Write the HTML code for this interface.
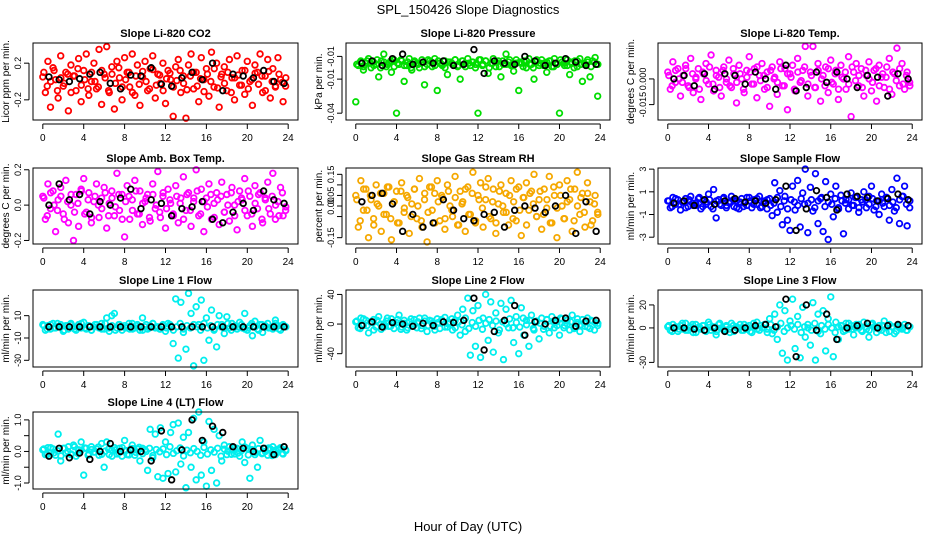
<!DOCTYPE html>
<html><head><meta charset="utf-8"><style>
body{margin:0;background:#fff;}
svg{display:block;font-family:"Liberation Sans",sans-serif;}
</style></head><body>
<svg id="c" width="936" height="540" viewBox="0 0 936 540">
<text x="468" y="14" text-anchor="middle" font-size="13">SPL_150426  Slope Diagnostics</text>
<text x="468" y="531" text-anchor="middle" font-size="13">Hour of Day (UTC)</text>
</svg>
<script>
const hourTicks=[0,4,8,12,16,20,24];
const co2Vals=[0.05,-0.12,0.22,-0.28,0.15,0.02,-0.18,0.28,-0.05,0.1,-0.32,0.18,0.06,-0.1,0.25,-0.22,0.12,0.3,-0.15,0.0,0.2,-0.08,0.35,-0.25,0.08,0.38,-0.12,0.16,-0.3,0.22,0.04,-0.2,0.26,0.1,-0.06,0.3,-0.15,0.18,-0.26,0.05,0.22,-0.1,0.14,0.28,-0.18,0.08,-0.02,0.2,-0.24,0.12,0.02,-0.38,0.16,0.24,-0.12,0.06,-0.4,0.18,0.3,-0.08,0.1,-0.22,0.26,0.02,0.14,-0.16,0.32,-0.06,0.2,-0.28,0.08,0.16,-0.1,0.24,0.04,-0.2,0.28,-0.04,0.12,-0.14,0.22,0.0,-0.26,0.18,0.1,0.3,-0.12,0.06,0.24,-0.18,0.14,-0.06,0.26,0.02,-0.22,-0.05];
const co2Core=[0.1,-0.05,0.0,0.12,-0.1,0.04,-0.02,0.08,-0.12,0.06,0.14,-0.04,0.02,-0.08,0.1,0.0,-0.06,0.12,0.04,-0.1,0.08,-0.02,0.15,-0.06,0.02,0.1,-0.12,0.06,-0.03,0.11,0.0,-0.08,0.13,-0.04,0.07,-0.1,0.03,0.09,-0.06,0.01,0.12,-0.02,-0.09,0.06,0.1,-0.05,0.03,-0.11,0.08,0.0,0.14,-0.07,0.05,-0.02,0.1,-0.12,0.04,0.07,-0.04,0.12,-0.08,0.02,0.09,-0.03,0.06,-0.1,0.11,0.0,-0.05,0.08,-0.01,0.04];
const co2Black=[0.05,0.02,0.0,0.03,0.08,0.1,-0.02,-0.08,0.07,0.06,0.15,-0.03,-0.05,0.04,0.1,0.02,0.2,-0.1,0.08,0.06,0.04,0.12,0.0,-0.02];
const presVals=[-0.03,0.002,0.006,-0.002,0.004,0.008,0.0,0.005,0.003,-0.008,0.006,0.012,0.001,0.004,-0.004,0.007,-0.04,0.003,0.006,-0.012,0.002,0.008,-0.002,0.005,0.004,0.0,0.007,-0.015,0.003,0.006,0.001,0.008,-0.02,0.004,0.002,0.006,-0.006,0.005,0.003,0.007,0.001,-0.01,0.006,0.004,0.008,0.002,0.005,0.0,-0.04,0.007,0.003,0.006,-0.005,0.004,0.008,0.001,0.006,-0.008,0.003,0.012,0.005,0.002,-0.003,0.007,-0.02,0.004,0.006,0.0,0.008,0.003,-0.01,0.005,0.002,0.007,0.004,-0.004,0.006,0.001,0.008,0.003,-0.04,0.005,0.002,0.007,-0.006,0.004,0.006,0.001,0.008,-0.012,0.003,0.005,-0.008,0.006,0.009,-0.025];
const presCore=[0.003,0.005,0.001,0.006,0.004,0.002,0.007,0.0,0.005,0.003,0.006,0.001,0.004,0.007,0.002,0.005,0.0,0.006,0.003,0.004,0.001,0.007,0.005,0.002,0.006,0.003,0.0,0.005,0.004,0.007,0.002,0.006,0.001,0.004,0.005,0.003,0.007,0.002,0.006,0.0,0.004,0.005,0.001,0.006,0.003,0.007,0.002,0.004,0.005,0.001,0.006,0.003,0.0,0.007,0.004,0.002,0.005,0.006,0.001,0.003,0.007,0.004,0.002,0.005,0.0,0.006,0.003,0.004,0.007,0.001,0.005,0.003];
const presBlack=[0.004,0.006,0.002,0.008,0.012,0.003,0.005,0.004,0.006,0.002,0.003,0.016,-0.005,0.006,0.004,0.003,0.01,0.006,0.002,0.004,0.008,0.005,0.002,0.003];
const tempVals=[0.004,-0.006,0.01,-0.002,0.006,-0.01,0.002,0.008,-0.004,0.012,-0.008,0.0,0.006,-0.012,0.003,0.009,-0.003,0.014,-0.007,0.005,0.001,-0.01,0.007,-0.002,0.011,-0.005,0.003,-0.014,0.008,0.0,-0.008,0.005,0.013,-0.003,0.006,-0.011,0.002,0.009,-0.006,0.004,-0.016,0.007,0.001,-0.009,0.01,-0.004,0.006,-0.018,0.003,0.008,-0.007,0.012,-0.002,0.005,0.019,-0.01,0.004,0.019,-0.005,0.009,-0.013,0.002,0.007,-0.008,0.011,-0.003,0.005,-0.012,0.008,0.0,-0.006,0.013,-0.022,0.004,0.009,-0.004,0.006,-0.01,0.002,0.01,-0.007,0.005,-0.013,0.008,0.001,-0.005,0.007,0.012,-0.009,0.003,0.018,-0.004,0.009,-0.006,0.004,-0.002];
const tempCore=[0.002,-0.004,0.005,0.0,-0.002,0.006,-0.005,0.003,0.001,-0.006,0.004,-0.001,0.007,-0.003,0.002,-0.005,0.005,0.0,-0.004,0.006,-0.002,0.003,-0.006,0.001,0.004,-0.003,0.007,-0.001,0.002,-0.005,0.005,0.0,-0.002,0.006,-0.004,0.003,0.001,-0.006,0.004,-0.001,0.007,-0.003,0.002,-0.005,0.005,0.0,-0.004,0.006,-0.002,0.003,-0.006,0.001,0.004,-0.003,0.007,-0.001,0.002,-0.005,0.005,0.0,-0.002,0.006,-0.004,0.003,0.001,-0.006,0.004,-0.001,0.006,-0.003,0.002,-0.004];
const tempBlack=[0.0,0.002,-0.004,0.003,-0.006,0.003,0.002,-0.003,0.004,0.0,-0.006,0.008,-0.007,-0.005,0.004,-0.002,0.004,0.0,-0.005,0.002,0.001,-0.01,0.003,0.0];
const ambVals=[0.05,-0.08,0.12,-0.02,0.08,-0.15,0.03,0.1,-0.05,0.14,-0.1,0.0,-0.2,0.06,-0.12,0.09,0.15,-0.04,0.07,-0.1,0.02,0.12,-0.07,0.04,0.1,-0.13,0.01,0.08,-0.06,0.18,-0.03,0.06,-0.18,0.11,-0.08,0.03,0.14,-0.05,0.08,-0.11,0.02,0.06,-0.09,0.12,-0.02,0.19,-0.07,0.05,-0.13,0.09,0.01,-0.05,0.11,-0.1,0.04,0.16,-0.03,0.07,-0.12,0.02,0.2,-0.06,0.09,-0.15,0.04,0.12,-0.08,0.01,0.07,-0.11,0.13,-0.04,0.06,-0.09,0.1,0.0,-0.14,0.08,0.03,0.15,-0.06,0.05,-0.12,0.11,-0.02,0.07,-0.1,0.04,0.13,-0.05,0.18,-0.08,0.02,0.1,-0.06,-0.03];
const ambCore=[0.04,-0.06,0.07,0.0,-0.03,0.05,-0.08,0.02,0.06,-0.04,0.01,0.08,-0.05,0.03,-0.07,0.05,0.0,-0.02,0.07,-0.06,0.04,-0.01,0.06,-0.08,0.02,0.05,-0.03,0.08,-0.05,0.01,0.04,-0.07,0.06,0.0,-0.04,0.07,-0.02,0.03,-0.06,0.05,0.01,-0.08,0.06,-0.03,0.04,0.08,-0.05,0.02,-0.01,0.06,-0.07,0.03,0.05,-0.04,0.0,0.07,-0.06,0.02,0.04,-0.03,0.08,-0.05,0.01,0.06,-0.08,0.03,-0.02,0.05,0.0,-0.06,0.07,-0.01];
const ambBlack=[0.0,0.12,0.03,0.06,-0.05,0.02,0.0,0.04,0.09,-0.02,0.03,0.01,-0.06,-0.02,-0.01,0.02,-0.08,-0.1,-0.04,0.01,-0.03,0.08,0.03,0.01];
const rhVals=[0.05,-0.1,0.12,-0.02,0.08,-0.15,0.03,-0.06,0.1,0.0,-0.12,0.06,-0.04,0.09,-0.16,0.02,0.07,-0.08,0.11,-0.03,0.05,-0.13,0.01,0.08,-0.06,0.13,-0.1,0.03,-0.17,0.09,-0.02,0.06,0.12,-0.07,0.04,-0.11,0.1,0.0,-0.05,0.14,-0.09,0.07,0.02,-0.12,0.09,-0.04,0.16,-0.08,0.05,0.11,-0.1,0.03,0.13,-0.06,0.08,-0.13,0.01,0.1,-0.03,0.06,-0.09,0.12,0.02,-0.07,0.09,-0.14,0.04,0.11,-0.02,0.07,0.15,-0.05,0.03,-0.11,0.08,-0.01,0.14,-0.08,0.05,-0.15,0.1,0.0,-0.06,0.12,0.03,-0.12,0.08,0.16,-0.04,0.06,-0.1,0.11,0.02,-0.07,0.05,-0.03];
const rhCore=[0.03,-0.07,0.08,-0.02,0.05,-0.09,0.01,0.06,-0.04,0.09,-0.06,0.02,-0.08,0.07,-0.01,0.04,-0.05,0.08,0.0,-0.07,0.06,-0.03,0.09,-0.08,0.02,0.05,-0.06,0.07,-0.02,0.04,-0.09,0.01,0.08,-0.04,0.06,-0.07,0.03,-0.01,0.09,-0.05,0.02,-0.08,0.07,0.0,-0.03,0.05,-0.06,0.08,-0.02,0.04,-0.09,0.06,0.01,-0.05,0.07,-0.04,0.03,-0.08,0.09,-0.01,0.05,-0.06,0.02,0.08,-0.07,0.0,0.04,-0.03,0.06,-0.09,0.01,-0.04];
const rhBlack=[0.02,0.05,0.06,0.01,-0.12,-0.04,-0.1,-0.08,0.03,-0.02,-0.06,-0.07,-0.04,-0.03,-0.1,-0.02,0.0,-0.01,-0.03,0.0,0.05,-0.13,0.02,-0.12];
const sampVals=[0.2,-0.4,0.5,-0.1,0.3,-0.6,0.1,0.4,-0.3,0.6,-0.2,0.0,0.4,-0.5,0.2,-0.1,0.8,-0.3,1.2,-1.3,0.3,-0.2,0.5,-0.4,0.1,0.6,-0.3,0.2,-0.5,0.4,0.0,-0.2,0.5,-0.4,0.3,-0.1,0.6,-0.3,0.2,-0.5,0.4,-1.1,1.8,-0.8,1.1,-1.9,0.6,-1.5,-2.4,1.5,-0.6,2.0,-2.1,0.9,3.0,-2.6,1.4,-0.7,2.6,-1.8,0.4,-2.5,1.9,-3.2,0.8,-1.2,1.5,-0.4,0.7,-2.7,0.3,-0.5,0.9,-0.2,0.5,-0.8,0.3,1.0,-0.4,0.6,1.5,-0.6,0.2,-1.0,0.8,-0.3,0.5,-1.5,1.2,-0.7,2.2,-1.8,0.6,1.5,-2.0,-0.4];
const sampCore=[0.2,-0.3,0.4,-0.1,0.1,-0.4,0.3,0.0,-0.2,0.5,-0.3,0.1,0.3,-0.5,0.2,-0.1,0.4,-0.2,0.0,0.3,-0.4,0.1,-0.3,0.5,0.2,-0.1,0.4,-0.4,0.1,0.3,-0.2,0.0,0.5,-0.3,0.2,-0.5,0.3,0.1,-0.2,0.4,-0.1,0.0,0.3,-0.4,0.2,0.5,-0.3,0.1,-0.1,0.4,-0.5,0.2,0.0,0.3,-0.2,0.5,-0.4,0.1,0.3,-0.1,0.4,-0.3,0.2,0.0,0.5,-0.2,0.1,-0.4,0.3,0.6,-0.1,0.2];
const sampBlack=[0.0,0.2,-0.2,0.3,-0.1,0.2,0.4,0.1,0.2,0.0,0.3,1.5,-2.4,-0.5,1.1,0.5,-0.6,0.8,0.6,0.5,0.2,0.4,0.8,0.3];
const l1Vals=[2,-3,1,-2,3,-1,0,2,-4,1,-2,3,0,-3,2,-1,4,-2,1,-3,0,2,-1,3,-2,8,-4,10,12,-1,2,-3,1,0,-2,3,-1,2,-3,8,0,-2,1,3,-1,0,-2,2,-4,3,1,-15,25,-28,22,-5,-20,30,12,-35,18,2,24,-30,8,-12,15,-3,-18,10,2,-6,9,-1,3,0,-2,4,-1,12,-3,1,-8,5,-2,2,-5,0,3,-1,-2,6,1,-3,2,0];
const l1Core=[1,-2,2,-1,3,0,-3,1,2,-2,0,3,-1,1,-3,2,0,-2,3,-1,1,-3,2,0,-1,3,-2,1,0,-3,2,-1,3,0,-2,1,-1,2,-3,0,3,-2,1,-1,2,0,-3,3,-1,1,-2,2,0,-1,3,-3,1,0,2,-2,-1,3,0,-3,2,1,-1,0,3,-2,1,0];
const l1Black=[0,0,0,0,0,0,0,0,0,0,0,0,0,0,0,0,0,0,0,0,0,0,0,0];
const l2Vals=[3,-5,8,-2,5,-12,2,6,-4,10,-7,0,4,-3,7,-6,2,12,-4,5,-8,3,0,6,-5,8,-2,4,-10,5,1,-3,7,-6,3,9,-4,2,-8,5,12,-15,20,-10,35,-42,18,-30,25,-45,8,40,-22,30,-38,15,-12,28,-48,20,-5,32,-25,10,-40,22,-15,5,-30,12,-8,4,-20,8,-3,6,-12,10,-5,3,-15,7,-2,5,-8,12,-4,2,-10,6,-3,8,-6,4,2,-2];
const l2Core=[4,-6,7,-2,3,-8,5,0,-4,8,-3,2,6,-7,1,-5,7,-1,3,-6,8,-2,4,-8,2,6,-4,0,7,-5,3,-1,8,-6,2,-3,5,-7,1,6,-2,4,-8,3,0,7,-5,2,-4,8,-1,5,-6,3,1,-7,6,-3,4,-2,8,-5,0,3,-6,7,-1,2,-4,5,-8,1];
const l2Black=[-2,3,-4,2,0,-3,1,-2,3,2,5,35,-35,-10,5,25,-15,3,0,5,8,-3,4,5];
const l3Vals=[1,-2,3,0,-3,2,-1,4,-2,1,-4,3,0,-1,2,-3,5,-2,1,-6,3,0,-2,2,-1,4,-3,1,0,-2,3,-1,2,-4,1,5,-2,0,3,-1,8,-5,12,-10,20,-22,15,-28,6,25,-18,10,-26,18,-8,3,-15,22,-28,12,-5,15,-20,8,27,-25,5,-10,2,-3,4,-1,2,-6,3,0,-2,5,-1,-8,3,1,-4,2,-2,6,0,-3,1,-5,2,0,-1,3,-2,1];
const l3Core=[2,-3,1,-1,4,-2,0,3,-4,1,2,-2,3,0,-3,4,-1,1,-4,2,0,3,-2,1,-3,4,-1,2,0,-4,3,-2,1,4,-3,0,2,-1,3,-4,1,0,-2,4,-3,2,-1,3,0,-4,1,2,-2,4,-1,0,3,-3,1,-2,4,0,-1,2,-4,3,1,-3,2,0,-2,1];
const l3Black=[0,0,-1,-2,0,-3,-2,0,2,3,1,25,-25,20,-2,12,-10,0,2,4,0,2,3,2];
const l4Vals=[0.05,-0.1,0.12,-0.05,0.08,-0.12,0.55,-0.3,0.1,-0.05,0.15,-0.1,0.2,-0.15,0.05,0.3,-0.75,0.1,-0.08,0.15,-0.02,0.08,-0.12,0.25,-0.5,0.3,-0.1,0.05,0.12,-0.08,0.1,-0.15,0.35,-0.1,0.05,0.2,-0.12,0.08,-0.3,0.1,0.05,-0.6,0.7,-0.2,0.55,-0.8,0.75,-0.85,0.3,-0.7,0.6,0.85,-0.65,0.9,-0.4,0.45,-1.15,0.6,-0.5,1.05,-0.9,1.25,-0.75,0.3,-1.1,0.95,-0.6,0.7,-1.0,0.5,-0.3,0.2,-0.1,0.15,0.05,-0.08,0.1,-0.15,0.3,-0.35,0.1,-0.85,0.2,-0.1,-0.5,0.35,-0.05,0.1,-0.12,0.08,0.15,-0.1,0.05,0.12,-0.08,0.05];
const l4Core=[0.08,-0.1,0.12,-0.04,0.02,-0.14,0.1,0.0,-0.08,0.15,-0.06,0.04,0.11,-0.12,0.06,-0.02,0.14,-0.09,0.01,0.07,-0.15,0.05,-0.05,0.12,0.03,-0.11,0.09,-0.03,0.13,-0.07,0.0,0.1,-0.13,0.06,-0.01,0.08,-0.1,0.15,-0.06,0.02,0.11,-0.14,0.04,-0.04,0.09,0.0,-0.12,0.13,-0.08,0.05,-0.02,0.1,-0.15,0.07,0.01,-0.09,0.12,-0.05,0.03,0.14,-0.11,0.06,-0.03,0.09,-0.07,0.0,0.11,-0.13,0.04,0.08,-0.06,0.02];
const l4Black=[-0.15,0.1,-0.2,-0.05,-0.25,0.0,0.25,0.0,0.05,0.0,-0.3,0.65,-0.9,0.05,1.0,0.35,0.8,0.6,0.15,0.1,0.0,0.1,-0.1,0.15];

const colTicksCO2=[-0.2,0.2], lblCO2=["-0.2","0.2"];
const colTicksPres=[0.01,-0.01,-0.04], lblPres=["-0.01","-0.01","-0.04"];
const colTicksTemp=[0,-0.015], lblTemp=["0.000","-0.015"];
const colTicksAmb=[0.2,0,-0.2], lblAmb=["0.2","0.0","-0.2"];
const colTicksRH=[0.15,0.1,0.05,0,-0.05,-0.15], lblRH=["0.15","","0.05","0.00","","-0.15"];
const colTicksSamp=[3,1,-1,-3], lblSamp=["3","1","-1","-3"];
const colTicksL1=[10,-10,-30], lblL1=["10","-10","-30"];
const colTicksL2=[40,0,-40], lblL2=["40","0","-40"];
const colTicksL3=[20,0,-30], lblL3=["20","0","-30"];
const colTicksL4=[1,0.5,0,-0.5,-1], lblL4=["1.0","","0.0","","-1.0"];

const NS="http://www.w3.org/2000/svg";
const svg=document.getElementById('c');
function mk(tag,attrs,parent){const e=document.createElementNS(NS,tag);for(const k in attrs)e.setAttribute(k,attrs[k]);(parent||svg).appendChild(e);return e;}
const cols=[[33,298],[346,610],[658,922]];
const rows=[[43,120],[168,244],[290,367],[412,489]];
const panels=[
 {name:'co2',title:'Slope Li-820 CO2',yl:'Licor ppm per min.',r:0,c:0,dom:[-0.42,0.42],vals:co2Vals,core:co2Core,blk:co2Black,tk:colTicksCO2,tl:lblCO2,col:'#ff0000'},
 {name:'pressure',title:'Slope Li-820 Pressure',yl:'kPa per min.',r:0,c:1,dom:[-0.046,0.0218],vals:presVals,core:presCore,blk:presBlack,tk:colTicksPres,tl:lblPres,col:'#00dd00'},
 {name:'temp',title:'Slope Li-820 Temp.',yl:'degrees C per min.',r:0,c:2,dom:[-0.024,0.021],vals:tempVals,core:tempCore,blk:tempBlack,tk:colTicksTemp,tl:lblTemp,col:'#ff00ff'},
 {name:'amb-box-temp',title:'Slope Amb. Box Temp.',yl:'degrees C per min.',r:1,c:0,dom:[-0.22,0.21],vals:ambVals,core:ambCore,blk:ambBlack,tk:colTicksAmb,tl:lblAmb,col:'#ff00ff'},
 {name:'gas-stream-rh',title:'Slope Gas Stream RH',yl:'percent per min.',r:1,c:1,dom:[-0.18,0.18],vals:rhVals,core:rhCore,blk:rhBlack,tk:colTicksRH,tl:lblRH,col:'#f5a800'},
 {name:'sample-flow',title:'Slope Sample Flow',yl:'ml/min per min.',r:1,c:2,dom:[-3.6,3.1],vals:sampVals,core:sampCore,blk:sampBlack,tk:colTicksSamp,tl:lblSamp,col:'#0000ff'},
 {name:'line1-flow',title:'Slope Line 1 Flow',yl:'ml/min per min.',r:2,c:0,dom:[-36,33],vals:l1Vals,core:l1Core,blk:l1Black,tk:colTicksL1,tl:lblL1,col:'#00eeee'},
 {name:'line2-flow',title:'Slope Line 2 Flow',yl:'ml/min per min.',r:2,c:1,dom:[-58,46],vals:l2Vals,core:l2Core,blk:l2Black,tk:colTicksL2,tl:lblL2,col:'#00eeee'},
 {name:'line3-flow',title:'Slope Line 3 Flow',yl:'ml/min per min.',r:2,c:2,dom:[-34,33],vals:l3Vals,core:l3Core,blk:l3Black,tk:colTicksL3,tl:lblL3,col:'#00eeee'},
 {name:'line4-flow',title:'Slope Line 4 (LT) Flow',yl:'ml/min per min.',r:3,c:0,dom:[-1.19,1.25],vals:l4Vals,core:l4Core,blk:l4Black,tk:colTicksL4,tl:lblL4,col:'#00eeee'}
];
panels.forEach(p=>{
 const [x0,x1]=cols[p.c],[y0,y1]=rows[p.r];
 const g=mk('g',{});
 
 
 const xs=h=>x0+(x1-x0)*(h+0.96)/25.92;
 const ys=v=>y1-(y1-y0)*(v-p.dom[0])/(p.dom[1]-p.dom[0]);
 const t=mk('text',{x:(x0+x1)/2,y:y0-6,'text-anchor':'middle','font-size':11,'font-weight':'bold'},g);
 t.textContent=p.title;
 
 
 const pts=mk('g',{fill:'none','stroke-width':1.8},g);
 
 
 p.vals.forEach((v,i)=>{
  const c=mk('circle',{cx:xs(i*0.25),cy:ys(v),r:2.8,stroke:p.col},pts);
  
  
 });
 p.core.forEach((v,i)=>{
  const c=mk('circle',{cx:xs(i/3+0.1),cy:ys(v),r:2.8,stroke:p.col},pts);
  
  
 });
 p.blk.forEach((v,i)=>{
  const c=mk('circle',{cx:xs(i+0.6),cy:ys(v),r:2.8,stroke:'#000'},pts);
  
  
 });
 const box=mk('rect',{x:x0,y:y0,width:x1-x0,height:y1-y0,fill:'none',stroke:'#000','stroke-width':1},g);
 
 
 const xa=mk('g',{},g);
 
 
 mk('line',{x1:xs(0),x2:xs(24),y1:y1+4,y2:y1+4,stroke:'#000'},xa);
 hourTicks.forEach(h=>{
  mk('line',{x1:xs(h),x2:xs(h),y1:y1+4,y2:y1+9,stroke:'#000'},xa);
  const l=mk('text',{x:xs(h),y:y1+21,'text-anchor':'middle','font-size':10},xa);
  l.textContent=h;
 });
 const ya=mk('g',{},g);
 
 
 mk('line',{x1:x0-4,x2:x0-4,y1:ys(Math.min(...p.tk)),y2:ys(Math.max(...p.tk)),stroke:'#000'},ya);
 p.tk.forEach((v,i)=>{
  const y=ys(v);
  mk('line',{x1:x0-9,x2:x0-4,y1:y,y2:y,stroke:'#000'},ya);
  const l=mk('text',{x:x0-12,y:y,'text-anchor':'middle','font-size':9,transform:`rotate(-90 ${x0-12} ${y})`},ya);
  l.textContent=p.tl[i];
 });
 const yt=mk('text',{x:x0-24,y:(y0+y1)/2,'text-anchor':'middle','font-size':10,transform:`rotate(-90 ${x0-24} ${(y0+y1)/2})`},g);
 yt.textContent=p.yl;
 
 
});
</script>
</body></html>
